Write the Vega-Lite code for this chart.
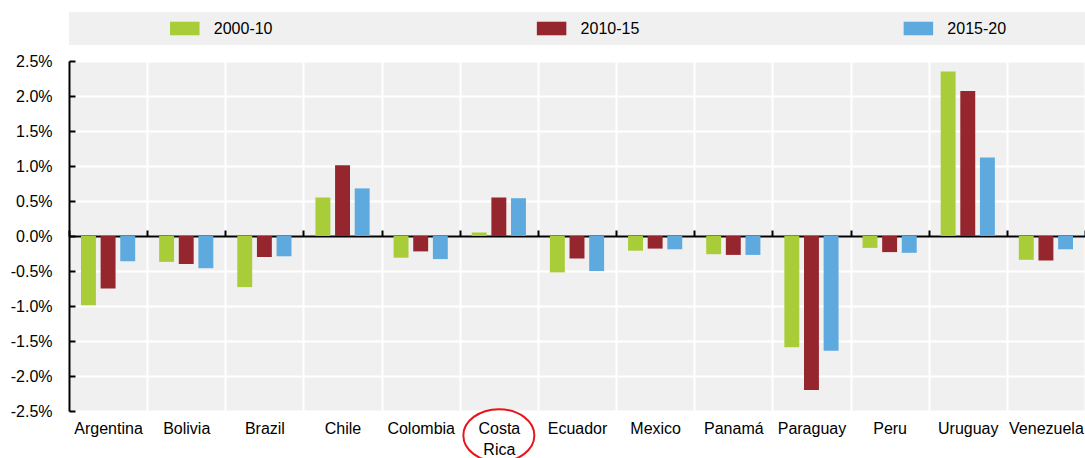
{
  "$schema": "https://vega.github.io/schema/vega-lite/v6.json",
  "autosize": {"type": "pad"},
  "padding": {"left": 10, "top": 12, "right": 0, "bottom": 0},
  "config": {
    "font": "Liberation Sans",
    "view": {"stroke": null},
    "concat": {"spacing": 8},
    "axis": {"labelFont": "Liberation Sans", "labelFontSize": 16, "labelColor": "#000000"},
    "axisY": {"labelOverlap": false}
  },
  "datasets": {
    "growth": [
      {"country": "Argentina", "period": "2000-10", "value": -0.99},
      {"country": "Argentina", "period": "2010-15", "value": -0.75},
      {"country": "Argentina", "period": "2015-20", "value": -0.36},
      {"country": "Bolivia", "period": "2000-10", "value": -0.37},
      {"country": "Bolivia", "period": "2010-15", "value": -0.40},
      {"country": "Bolivia", "period": "2015-20", "value": -0.46},
      {"country": "Brazil", "period": "2000-10", "value": -0.73},
      {"country": "Brazil", "period": "2010-15", "value": -0.30},
      {"country": "Brazil", "period": "2015-20", "value": -0.29},
      {"country": "Chile", "period": "2000-10", "value": 0.55},
      {"country": "Chile", "period": "2010-15", "value": 1.01},
      {"country": "Chile", "period": "2015-20", "value": 0.68},
      {"country": "Colombia", "period": "2000-10", "value": -0.31},
      {"country": "Colombia", "period": "2010-15", "value": -0.22},
      {"country": "Colombia", "period": "2015-20", "value": -0.33},
      {"country": "Costa Rica", "period": "2000-10", "value": 0.05},
      {"country": "Costa Rica", "period": "2010-15", "value": 0.55},
      {"country": "Costa Rica", "period": "2015-20", "value": 0.54},
      {"country": "Ecuador", "period": "2000-10", "value": -0.52},
      {"country": "Ecuador", "period": "2010-15", "value": -0.32},
      {"country": "Ecuador", "period": "2015-20", "value": -0.50},
      {"country": "Mexico", "period": "2000-10", "value": -0.21},
      {"country": "Mexico", "period": "2010-15", "value": -0.18},
      {"country": "Mexico", "period": "2015-20", "value": -0.19},
      {"country": "Panamá", "period": "2000-10", "value": -0.26},
      {"country": "Panamá", "period": "2010-15", "value": -0.27},
      {"country": "Panamá", "period": "2015-20", "value": -0.27},
      {"country": "Paraguay", "period": "2000-10", "value": -1.59},
      {"country": "Paraguay", "period": "2010-15", "value": -2.20},
      {"country": "Paraguay", "period": "2015-20", "value": -1.64},
      {"country": "Peru", "period": "2000-10", "value": -0.17},
      {"country": "Peru", "period": "2010-15", "value": -0.23},
      {"country": "Peru", "period": "2015-20", "value": -0.24},
      {"country": "Uruguay", "period": "2000-10", "value": 2.35},
      {"country": "Uruguay", "period": "2010-15", "value": 2.07},
      {"country": "Uruguay", "period": "2015-20", "value": 1.12},
      {"country": "Venezuela", "period": "2000-10", "value": -0.34},
      {"country": "Venezuela", "period": "2010-15", "value": -0.35},
      {"country": "Venezuela", "period": "2015-20", "value": -0.19}
    ],
    "periods": [
      {"period": "2000-10"},
      {"period": "2010-15"},
      {"period": "2015-20"}
    ],
    "highlight": [
      {"country": "Costa Rica", "value": -2.85}
    ]
  },
  "vconcat": [
    {
      "width": 1016,
      "height": 33,
      "view": {"fill": "#f0f0f0", "stroke": null},
      "data": {"name": "periods"},
      "encoding": {
        "x": {
          "field": "period",
          "type": "nominal",
          "scale": {"type": "point", "padding": 0.385, "align": 0.41},
          "axis": null
        }
      },
      "layer": [
        {
          "mark": {
            "type": "point",
            "shape": "M-1,-0.46H1V0.46H-1Z",
            "size": 870,
            "filled": true,
            "opacity": 1
          },
          "encoding": {
            "color": {
              "field": "period",
              "type": "nominal",
              "scale": {"domain": ["2000-10", "2010-15", "2015-20"], "range": ["#a8cd38", "#96262d", "#5eaadf"]},
              "legend": null
            }
          }
        },
        {
          "mark": {
            "type": "text",
            "align": "left",
            "baseline": "middle",
            "dx": 29,
            "fontSize": 16,
            "font": "Liberation Sans",
            "color": "#000000"
          },
          "encoding": {"text": {"field": "period"}}
        }
      ]
    },
    {
      "width": 1016,
      "height": 350,
      "view": {"fill": "#f0f0f0", "stroke": null},
      "layer": [
        {
          "data": {"name": "growth"},
          "mark": {"type": "bar"},
          "encoding": {
            "x": {
              "field": "country",
              "type": "nominal",
              "scale": {
                "domain": ["Argentina", "Bolivia", "Brazil", "Chile", "Colombia", "Costa Rica", "Ecuador", "Mexico", "Panamá", "Paraguay", "Peru", "Uruguay", "Venezuela"],
                "paddingInner": 0,
                "paddingOuter": 0
              },
              "axis": {
                "orient": "bottom",
                "title": null,
                "labelAngle": 0,
                "labelPadding": 9,
                "labelLineHeight": 21,
                "labelExpr": "datum.label == 'Costa Rica' ? ['Costa', 'Rica'] : datum.label",
                "ticks": false,
                "domain": false,
                "grid": true,
                "gridColor": "#ffffff",
                "gridWidth": 2,
                "tickBand": "extent"
              }
            },
            "xOffset": {
              "field": "period",
              "type": "nominal",
              "scale": {"paddingInner": 0.24, "paddingOuter": 0.61}
            },
            "y": {
              "field": "value",
              "type": "quantitative",
              "scale": {"domain": [-2.5, 2.5], "nice": false, "zero": false},
              "axis": {
                "title": null,
                "values": [-2.5, -2, -1.5, -1, -0.5, 0, 0.5, 1, 1.5, 2, 2.5],
                "tickCount": 20,
                "labelExpr": "replace(format(datum.value, '.1f'), '−', '-') + '%'",
                "labelOverlap": false,
                "grid": true,
                "gridColor": "#ffffff",
                "gridWidth": 2,
                "domainColor": "#000000",
                "domainWidth": 2,
                "tickColor": "#000000",
                "tickWidth": 2,
                "tickSize": -6,
                "labelPadding": 23
              }
            },
            "color": {
              "field": "period",
              "type": "nominal",
              "scale": {"domain": ["2000-10", "2010-15", "2015-20"], "range": ["#a8cd38", "#96262d", "#5eaadf"]},
              "legend": null
            }
          }
        },
        {
          "data": {"name": "growth"},
          "mark": {"type": "rule", "opacity": 0},
          "encoding": {
            "x": {
              "field": "country",
              "type": "nominal",
              "axis": {
                "orient": "top",
                "offset": -175,
                "title": null,
                "labels": false,
                "grid": false,
                "domain": true,
                "domainColor": "#000000",
                "domainWidth": 2,
                "ticks": true,
                "tickColor": "#000000",
                "tickWidth": 2,
                "tickSize": 6,
                "tickBand": "extent"
              }
            }
          }
        },
        {
          "data": {"name": "highlight"},
          "mark": {
            "type": "point",
            "shape": "M-1,0A1,0.74,0,1,0,1,0A1,0.74,0,1,0,-1,0Z",
            "size": 5041,
            "filled": false,
            "stroke": "#e8141b",
            "strokeWidth": 2,
            "opacity": 1,
            "clip": false
          },
          "encoding": {
            "x": {"field": "country", "type": "nominal", "axis": null},
            "y": {"field": "value", "type": "quantitative"}
          }
        }
      ],
      "resolve": {"axis": {"x": "independent"}}
    }
  ]
}
